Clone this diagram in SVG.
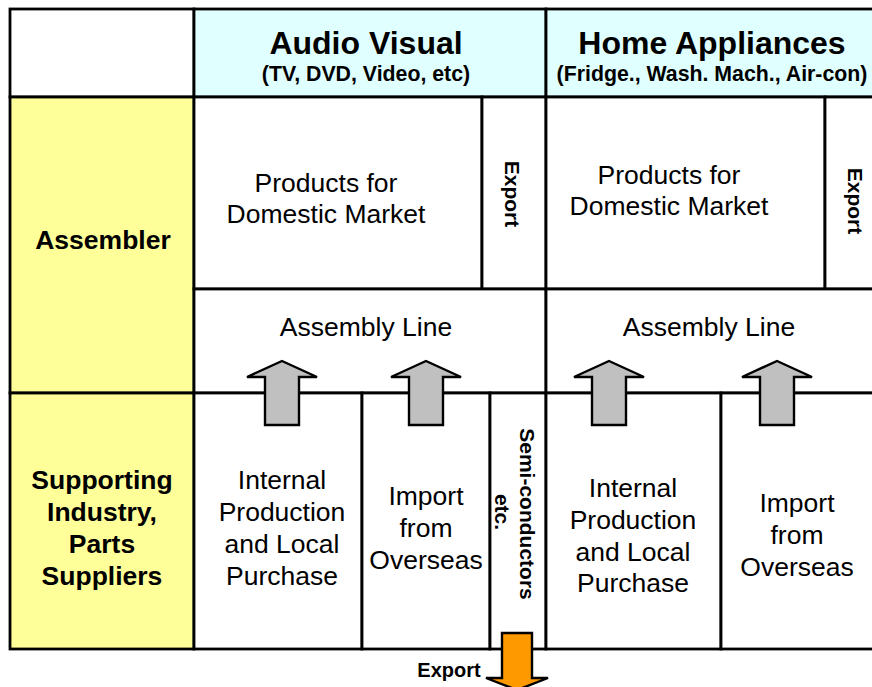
<svg xmlns="http://www.w3.org/2000/svg" width="872" height="687" viewBox="0 0 872 687">
  <style>
    .cell { stroke: #000; stroke-width: 2.8; }
    .white { fill: #fff; }
    .cyan { fill: #E0FFFF; }
    .yellow { fill: #FFFF99; }
    text { font-family: "Liberation Sans", Arial, sans-serif; fill: #000; }
    .title { font-size: 32px; font-weight: bold; text-anchor: middle; }
    .sub { font-size: 21.3px; font-weight: bold; text-anchor: middle; }
    .body { font-size: 26.5px; text-anchor: middle; }
    .lbl { font-size: 26.5px; font-weight: bold; text-anchor: middle; }
    .vert { font-size: 21px; font-weight: bold; text-anchor: middle; }
    .up { fill: #C0C0C0; stroke: #000; stroke-width: 2.4; stroke-linejoin: miter; }
    .down { fill: #FF9900; stroke: #000; stroke-width: 2.4; stroke-linejoin: miter; }
  </style>
  <rect width="872" height="687" fill="#fff"/>

  <!-- header row -->
  <g id="corner"><rect class="cell white" x="10" y="9" width="184" height="88"/></g>
  <g id="hdr-av">
    <rect class="cell cyan" x="194" y="9" width="352" height="88"/>
    <text class="title" x="366" y="54">Audio Visual</text>
    <text class="sub" x="366" y="81">(TV, DVD, Video, etc)</text>
  </g>
  <g id="hdr-ha">
    <rect class="cell cyan" x="546" y="9" width="340" height="88"/>
    <text class="title" x="712" y="54">Home Appliances</text>
    <text class="sub" x="712" y="81">(Fridge., Wash. Mach., Air-con)</text>
  </g>

  <!-- row labels -->
  <g id="lbl-assembler">
    <rect class="cell yellow" x="10" y="97" width="184" height="296"/>
    <text class="lbl" x="103" y="249">Assembler</text>
  </g>
  <g id="lbl-support">
    <rect class="cell yellow" x="10" y="393" width="184" height="256"/>
    <text class="lbl" x="102" y="489">Supporting</text>
    <text class="lbl" x="102" y="521">Industry,</text>
    <text class="lbl" x="102" y="553">Parts</text>
    <text class="lbl" x="102" y="585">Suppliers</text>
  </g>

  <!-- audio visual column -->
  <g id="av-domestic">
    <rect class="cell white" x="194" y="97" width="288" height="192"/>
    <text class="body" x="326" y="192">Products for</text>
    <text class="body" x="326" y="223">Domestic Market</text>
  </g>
  <g id="av-export">
    <rect class="cell white" x="482" y="97" width="64" height="192"/>
    <text class="vert" transform="translate(505,194) rotate(90)">Export</text>
  </g>
  <g id="av-assembly">
    <rect class="cell white" x="194" y="289" width="352" height="104"/>
    <text class="body" x="366" y="336">Assembly Line</text>
  </g>
  <g id="av-internal">
    <rect class="cell white" x="194" y="393" width="168" height="256"/>
    <text class="body" x="282" y="489">Internal</text>
    <text class="body" x="282" y="521">Production</text>
    <text class="body" x="282" y="553">and Local</text>
    <text class="body" x="282" y="585">Purchase</text>
  </g>
  <g id="av-import">
    <rect class="cell white" x="362" y="393" width="128" height="256"/>
    <text class="body" x="426" y="505">Import</text>
    <text class="body" x="426" y="537">from</text>
    <text class="body" x="426" y="569">Overseas</text>
  </g>
  <g id="av-semi">
    <rect class="cell white" x="490" y="393" width="56" height="256"/>
    <text class="vert" transform="translate(520,514) rotate(90)">Semi-conductors</text>
    <text class="vert" transform="translate(495,512) rotate(90)">etc.</text>
  </g>

  <!-- home appliances column -->
  <g id="ha-domestic">
    <rect class="cell white" x="546" y="97" width="279" height="192"/>
    <text class="body" x="669" y="184">Products for</text>
    <text class="body" x="669" y="215">Domestic Market</text>
  </g>
  <g id="ha-export">
    <rect class="cell white" x="825" y="97" width="61" height="192"/>
    <text class="vert" transform="translate(848,201) rotate(90)">Export</text>
  </g>
  <g id="ha-assembly">
    <rect class="cell white" x="546" y="289" width="340" height="104"/>
    <text class="body" x="709" y="336">Assembly Line</text>
  </g>
  <g id="ha-internal">
    <rect class="cell white" x="546" y="393" width="175" height="256"/>
    <text class="body" x="633" y="497">Internal</text>
    <text class="body" x="633" y="529">Production</text>
    <text class="body" x="633" y="561">and Local</text>
    <text class="body" x="633" y="592">Purchase</text>
  </g>
  <g id="ha-import">
    <rect class="cell white" x="721" y="393" width="165" height="256"/>
    <text class="body" x="797" y="512">Import</text>
    <text class="body" x="797" y="544">from</text>
    <text class="body" x="797" y="576">Overseas</text>
  </g>

  <!-- flow arrows -->
  <g id="connectors">
    <path class="up" d="M282,361 L317,377 L299,377 L299,425 L265,425 L265,377 L247,377 Z"/>
    <path class="up" d="M426,361 L461,377 L443,377 L443,425 L409,425 L409,377 L391,377 Z"/>
    <path class="up" d="M609,361 L644,377 L626,377 L626,425 L592,425 L592,377 L574,377 Z"/>
    <path class="up" d="M777,361 L812,377 L794,377 L794,425 L760,425 L760,377 L742,377 Z"/>
    <path class="down" d="M502,633 L532,633 L532,678 L548,678 L517,690 L486,678 L502,678 Z"/>
    <text id="export-label" x="449" y="677" style="font-size:20px;font-weight:bold;text-anchor:middle">Export</text>
  </g>
</svg>
